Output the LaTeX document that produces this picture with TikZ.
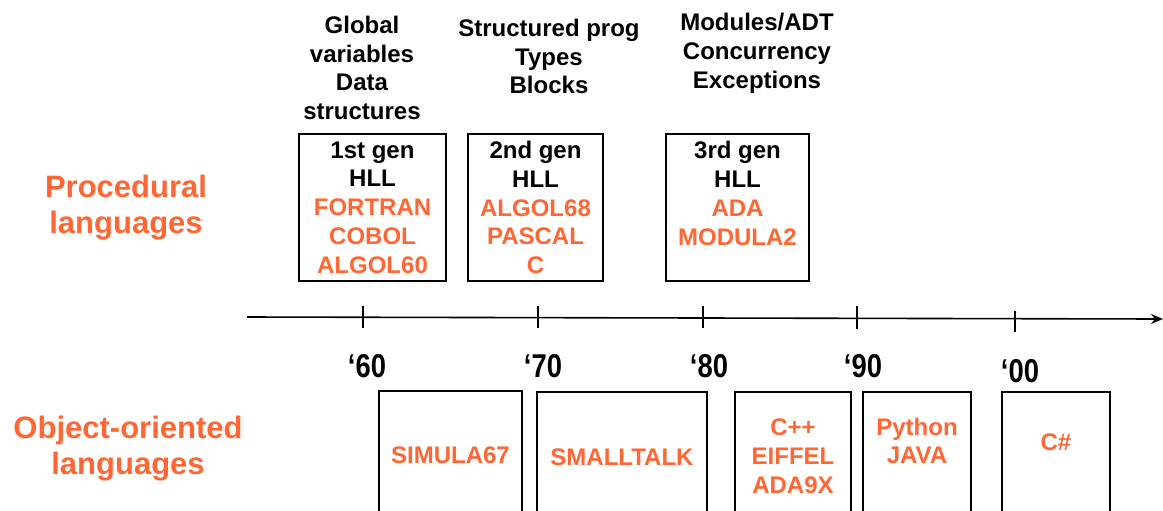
\documentclass[tikz,border=0pt]{standalone}
\usepackage{fontspec}
\setmainfont{Liberation Sans}
\newfontfamily\narrowsans[FakeStretch=0.83]{Liberation Sans}
\usetikzlibrary{arrows.meta}
\definecolor{langorange}{RGB}{255,102,51}
\tikzset{
  base/.style={font=\fontsize{12}{14.4}\selectfont\bfseries, align=center, inner sep=0pt},
  heading/.style={base},
  side/.style={font=\fontsize{15.5}{18}\selectfont\bfseries, align=center, inner sep=0pt, text=langorange},
  year/.style={font=\narrowsans\fontsize{16.5}{19}\selectfont\bfseries, inner sep=0pt},
  genbox/.style={base, draw, line width=0.9pt, minimum height=73.5pt, outer sep=0pt},
  oobox/.style={draw, line width=0.9pt, minimum height=70pt, anchor=north, inner sep=0pt, outer sep=0pt},
  lang/.style={base, text=langorange},
  axis/.style={line width=0.8pt, -{Stealth[length=6pt,width=5pt]}},
  tick/.style={line width=0.6pt}
}
\begin{document}
\begin{tikzpicture}[x=0.5pt,y=-0.5pt]
\useasboundingbox (0,0) rectangle (1163,510);
\clip (0,0) rectangle (1163,510);

% side labels
\node[side] (proc) at (126,208) {Procedural\\languages};
\node[side] (oo) at (128,449) {Object-oriented\\languages};

% headings above the generation boxes
\node[heading] (h1) at (362,68) {Global\\variables\\Data\\structures};
\node[heading] (h2) at (549,56.5) {Structured prog\\Types\\Blocks};
\node[heading] (h3) at (757,53.5) {Modules/ADT\\Concurrency\\Exceptions};

% procedural generations
\node[genbox, minimum width=73.5pt] (g1) at (372.5,207.5)
  {1st gen\\HLL\\\textcolor{langorange}{FORTRAN}\\\textcolor{langorange}{COBOL}\\\textcolor{langorange}{ALGOL60}};
\node[genbox, minimum width=67.5pt] (g2) at (535.5,207.5)
  {2nd gen\\HLL\\\textcolor{langorange}{ALGOL68}\\\textcolor{langorange}{PASCAL}\\\textcolor{langorange}{C}};
\node[genbox, minimum width=71.5pt] (g3) at (737.5,207.5)
  {3rd gen\\HLL\\\textcolor{langorange}{ADA}\\\textcolor{langorange}{MODULA2}\\\phantom{A}};

% time axis
\coordinate (axL) at (247,317);
\coordinate (axR) at (1163,319);
\draw[axis] (axL) -- (axR);
\draw[tick] (363,306) -- (363,328);
\draw[tick] (538,306) -- (538,328);
\draw[tick] (703,306) -- (703,328);
\draw[tick] (857,306) -- (857,329);
\draw[tick] (1015,311) -- (1015,332);

\node[year] (y60) at (367,366) {‘60};
\node[year] (y70) at (543,366) {‘70};
\node[year] (y80) at (709,366) {‘80};
\node[year] (y90) at (863,366) {‘90};
\node[year] (y00) at (1020,371) {‘00};

% object-oriented languages
\node[oobox, minimum width=71.5pt] (b1) at (450.5,391) {};
\node[oobox, minimum width=85pt] (b2) at (622,392) {};
\node[oobox, minimum width=58pt] (b3) at (793,392) {};
\node[oobox, minimum width=54pt] (b4) at (917,392) {};
\node[oobox, minimum width=54pt] (b5) at (1056,392) {};

\node[lang] (simula) at (450.5,455) {SIMULA67};
\node[lang] (smalltalk) at (622,457) {SMALLTALK};
\node[lang] (cpp) at (793,456) {C++\\EIFFEL\\ADA9X};
\node[lang] (python) at (917,441) {Python\\JAVA};
\node[lang] (csharp) at (1056,442) {C\#};
\end{tikzpicture}
\end{document}
